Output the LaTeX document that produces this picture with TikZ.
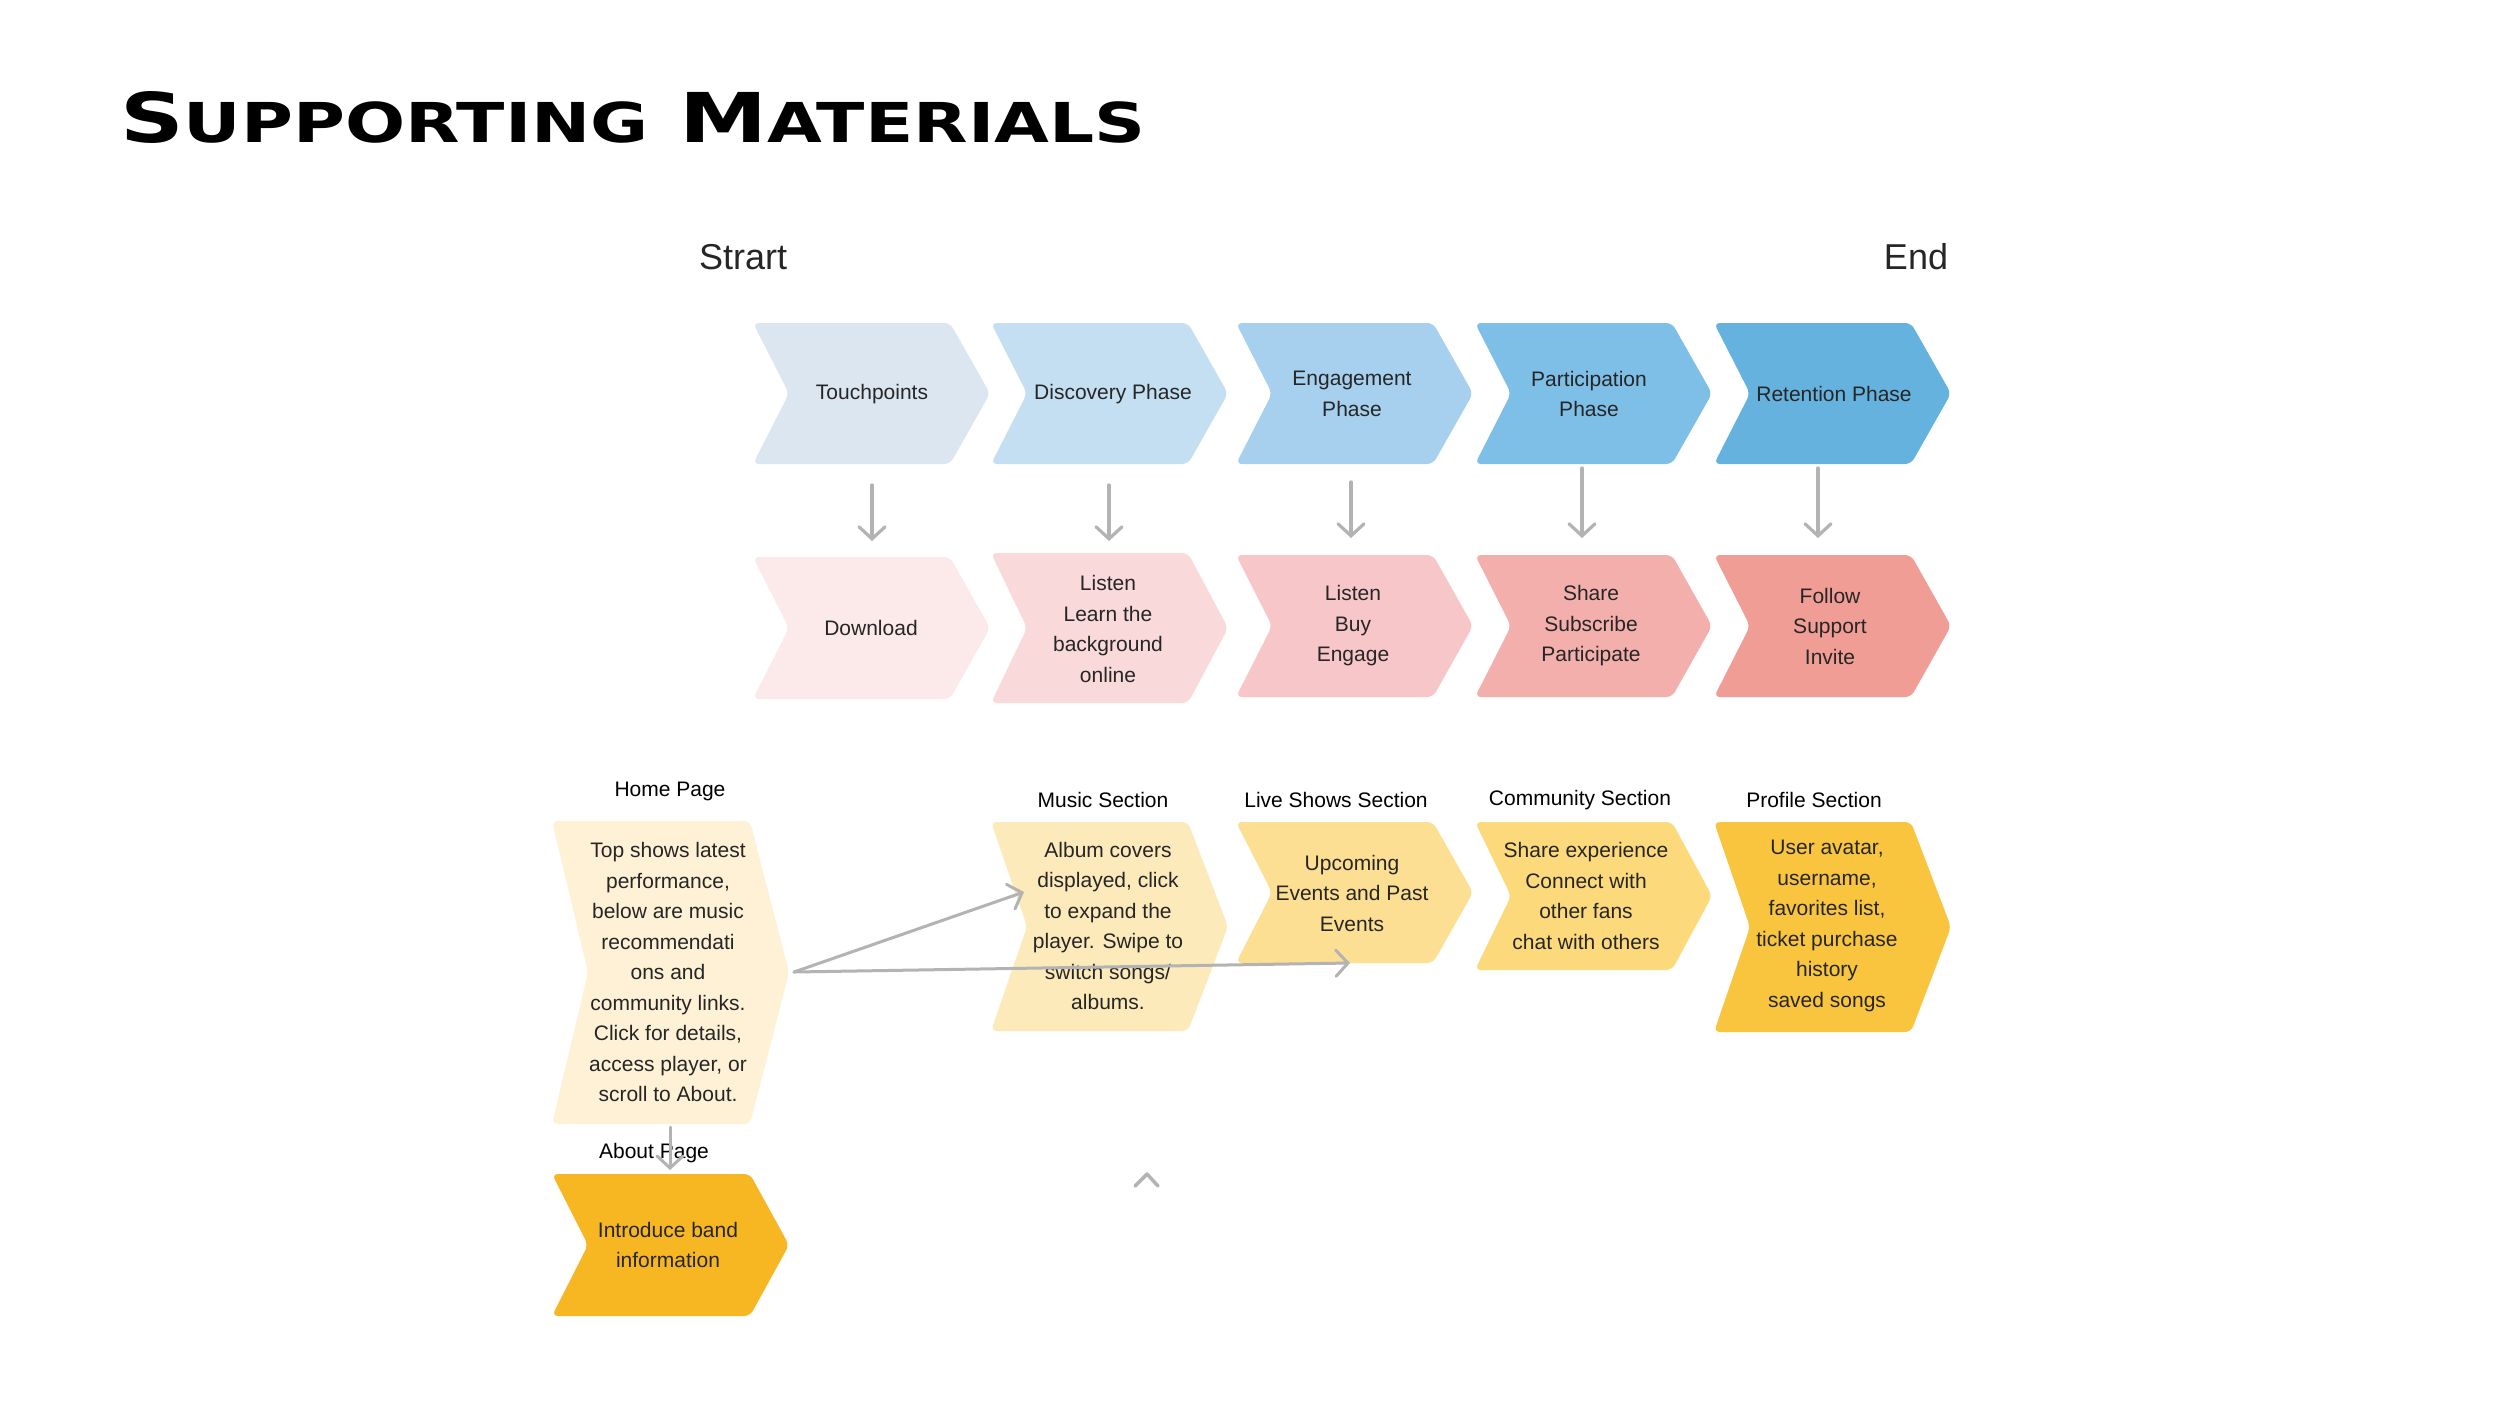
\documentclass[tikz,border=0pt]{standalone}
\usepackage{fontspec}
\setmainfont{Liberation Sans}
\newfontfamily\titlefont{DejaVu Sans}
\usetikzlibrary{arrows.meta}
\definecolor{cTp}{HTML}{DCE6F0}
\definecolor{cDp}{HTML}{C4DFF2}
\definecolor{cEp}{HTML}{A6D0EE}
\definecolor{cPp}{HTML}{7EBFE7}
\definecolor{cRp}{HTML}{65B2DF}
\definecolor{cDl}{HTML}{FCE9E9}
\definecolor{cLl}{HTML}{F9D9DA}
\definecolor{cLb}{HTML}{F7C6C9}
\definecolor{cSh}{HTML}{F3AFAC}
\definecolor{cFo}{HTML}{F09D96}
\definecolor{cHp}{HTML}{FEF1D6}
\definecolor{cMs}{HTML}{FDEABB}
\definecolor{cLs}{HTML}{FCDF93}
\definecolor{cCs}{HTML}{FCD97A}
\definecolor{cPs}{HTML}{F9C53F}
\definecolor{cAp}{HTML}{F6B722}
\definecolor{textc}{HTML}{262626}
\definecolor{linec}{HTML}{B3B3B3}
\newcommand{\chev}[6]{\fill[#6, rounded corners=6pt] (#1,#2) -- ({#1+237-#5},#2) -- ({#1+237},{(#2+#3)/2}) -- ({#1+237-#5},#3) -- (#1,#3) -- ({#1+#4},{(#2+#3)/2}) -- cycle;}
\begin{document}
\begin{tikzpicture}[x=1pt,y=-1pt,
  txt/.style={font=\fontsize{21}{30.5}\selectfont, text=textc, align=center, inner sep=0pt},
  lab/.style={font=\fontsize{21}{30.5}\selectfont, text=black, inner sep=0pt},
  big/.style={font=\fontsize{36}{40}\selectfont, text=textc, inner sep=0pt},
  conn/.style={draw=linec, line width=3.2pt, line cap=round, -{Straight Barb[length=12pt,width=26pt,line cap=round]}}]
\fill[white] (0,0) rectangle (2500,1406);
\useasboundingbox (0,0) rectangle (2500,1406);

% title
\node[anchor=base west, inner sep=0pt] (title) at (120,142) {\resizebox{1025pt}{51pt}{\titlefont\bfseries\fontsize{70}{70}\selectfont S{\fontsize{56}{56}\selectfont UPPORTING} M{\fontsize{56}{56}\selectfont ATERIALS}}};

\node[big] (start) at (743,257) {Strart};
\node[big] (end) at (1916,257) {End};

% top row
\chev{753}{323}{464}{36}{40}{cTp}
\chev{991}{323}{464}{36}{40}{cDp}
\chev{1236}{323}{464}{36}{40}{cEp}
\chev{1475}{323}{464}{36}{40}{cPp}
\chev{1714}{323}{464}{36}{40}{cRp}
\node[txt] (tp) at (872,394) {Touchpoints};
\node[txt] (dp) at (1113,394) {Discovery Phase};
\node[txt] (ep) at (1352,394) {Engagement\\Phase};
\node[txt] (pp) at (1589,394) {Participation\\Phase};
\node[txt] (rp) at (1834,394) {Retention Phase};

% second row
\chev{753}{557}{699}{36}{40}{cDl}
\chev{991}{553}{703}{36}{40}{cLl}
\chev{1236}{555}{697}{36}{40}{cLb}
\chev{1475}{555}{697}{36}{40}{cSh}
\chev{1714}{555}{697}{36}{40}{cFo}
\node[txt] (dl) at (871,628) {Download};
\node[txt] (ll) at (1108,629) {Listen\\Learn the\\background\\online};
\node[txt] (lb) at (1353,626) {Listen\\Buy\\Engage};
\node[txt] (sh) at (1591,626) {Share\\Subscribe\\Participate};
\node[txt] (fo) at (1830,626) {Follow\\Support\\Invite};

% arrows top -> second
\coordinate (a1s) at (872,485); \coordinate (a1e) at (872,541);
\coordinate (a2s) at (1109,485); \coordinate (a2e) at (1109,541);
\coordinate (a3s) at (1351,482); \coordinate (a3e) at (1351,538);
\coordinate (a4s) at (1582,468); \coordinate (a4e) at (1582,538);
\coordinate (a5s) at (1818,468); \coordinate (a5e) at (1818,538);
\draw[conn] (a1s) -- (a1e);
\draw[conn] (a2s) -- (a2e);
\draw[conn] (a3s) -- (a3e);
\draw[conn] (a4s) -- (a4e);
\draw[conn] (a5s) -- (a5e);

% third row
\chev{552}{821}{1124}{36}{39}{cHp}
\chev{991}{822}{1031}{36}{40}{cMs}
\chev{1236}{822}{963}{36}{40}{cLs}
\chev{1475}{822}{970}{36}{40}{cCs}
\chev{1714}{822}{1032}{36}{40}{cPs}
\chev{552}{1174}{1316}{36}{39}{cAp}

\node[lab] (hpl) at (670,791) {Home Page};
\node[lab] (msl) at (1103,800) {Music Section};
\node[lab] (lsl) at (1336,800) {Live Shows Section};
\node[lab] (csl) at (1580,800) {Community Section};
\node[lab] (psl) at (1814,800) {Profile Section};

\node[txt] (hp) at (668,972) {Top shows latest\\performance,\\below are music\\recommendati\\ons and\\community links.\\Click for details,\\access player, or\\scroll to About.};
\node[txt] (ms) at (1108,926) {Album covers\\displayed, click\\to expand the\\player. Swipe to\\switch songs/\\albums.};
\node[txt] (ls) at (1352,893) {Upcoming\\Events and Past\\Events};
\node[txt] (cs) at (1586,896) {Share experience\\Connect with\\other fans\\chat with others};
\node[txt] (ps) at (1827,926) {User avatar,\\username,\\favorites list,\\ticket purchase\\history\\saved songs};
\node[txt] (ap) at (668,1245) {Introduce band\\information};

% connectors from home page
\coordinate (hpR) at (794,972);
\coordinate (msIn) at (1024,892);
\coordinate (lsIn) at (1350,963);
\draw[conn, line width=3pt] (hpR) -- (msIn);
\draw[conn, line width=3pt] (hpR) -- (lsIn);

\node[lab] (apl) at (654,1153) {About Page};
\coordinate (hpB) at (670,1127);
\coordinate (apT) at (670,1170);
\draw[conn, line width=3pt] (hpB) -- (apT);

% caret
\coordinate (c1) at (1135,1186);
\coordinate (c2) at (1147,1174);
\coordinate (c3) at (1158,1186);
\draw[draw=linec, line width=3.5pt, line cap=round, line join=round] (c1) -- (c2) -- (c3);
\end{tikzpicture}
\end{document}
